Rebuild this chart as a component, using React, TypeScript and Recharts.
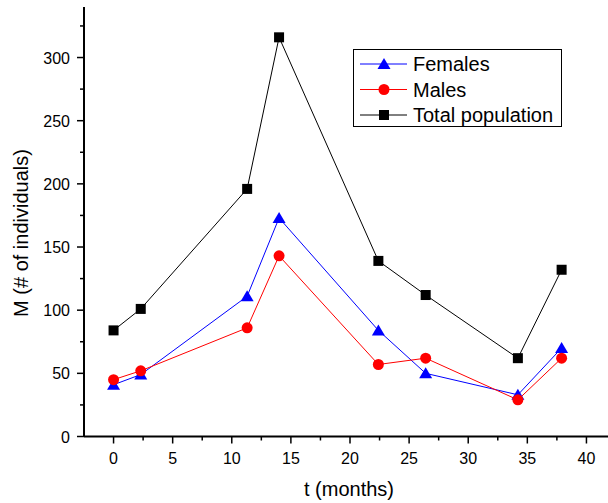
import { LineChart, Line, XAxis, YAxis } from "recharts";

const months = [0, 2.3, 11.3, 14, 22.4, 26.4, 34.2, 37.9];
const females = [41, 49, 111, 173, 84, 50, 33, 70];
const males = [45, 52, 86, 143, 57, 62, 29, 62];
const total = [84, 101, 196, 316, 139, 112, 62, 132];

const xTicks = [0, 2.5, 5, 7.5, 10, 12.5, 15, 17.5, 20, 22.5, 25, 27.5, 30, 32.5, 35, 37.5, 40];
const yTicks = [0, 25, 50, 75, 100, 125, 150, 175, 200, 225, 250, 275, 300, 325];

const data = months.map((t, i) => ({
  t,
  females: females[i],
  males: males[i],
  total: total[i],
}));

const FONT = "'Liberation Sans', Arial, sans-serif";

const seriesInfo = [
  { key: "females", name: "Females", color: "#0000ff", shape: "triangle" },
  { key: "males", name: "Males", color: "#ff0000", shape: "circle" },
  { key: "total", name: "Total population", color: "#000000", shape: "square" },
];

function Marker({ cx, cy, shape, color }: any) {
  if (cx == null || cy == null) return null;
  if (shape === "triangle") {
    return <polygon points={`${cx},${cy - 6} ${cx - 6.5},${cy + 5} ${cx + 6.5},${cy + 5}`} fill={color} />;
  }
  if (shape === "circle") {
    return <circle cx={cx} cy={cy} r={5.5} fill={color} />;
  }
  return <rect x={cx - 5} y={cy - 5} width={10} height={10} fill={color} />;
}

const isMajor = (v: number, step: number) => Math.abs(v / step - Math.round(v / step)) < 1e-6;

function BottomTick({ x, y, payload }: any) {
  const major = isMajor(payload.value, 5);
  return (
    <g>
      <line x1={x} x2={x} y1={y} y2={y + (major ? 7 : 4)} stroke="#000" strokeWidth={1.5} />
      {major && (
        <text x={x} y={y + 27} textAnchor="middle" fontSize={16} fontFamily={FONT} fill="#000">
          {payload.value}
        </text>
      )}
    </g>
  );
}

function TopTick({ x, y, payload }: any) {
  const major = isMajor(payload.value, 5);
  return <line x1={x} x2={x} y1={y} y2={y + (major ? 8 : 5)} stroke="#000" strokeWidth={1.5} />;
}

function LeftTick({ x, y, payload }: any) {
  const major = isMajor(payload.value, 50);
  return (
    <g>
      <line x1={x - (major ? 7 : 4)} x2={x} y1={y} y2={y} stroke="#000" strokeWidth={1.5} />
      {major && (
        <text x={x - 14} y={y + 6} textAnchor="end" fontSize={16} fontFamily={FONT} fill="#000">
          {payload.value}
        </text>
      )}
    </g>
  );
}

function RightTick({ x, y, payload }: any) {
  const major = isMajor(payload.value, 50);
  return <line x1={x - (major ? 8 : 5)} x2={x} y1={y} y2={y} stroke="#000" strokeWidth={1.5} />;
}

function LegendBox() {
  return (
    <svg width={209} height={78} style={{ display: "block" }}>
      <rect x={0.5} y={0.5} width={208} height={77} fill="#fff" stroke="#000" strokeWidth={1} />
      {seriesInfo.map((s, i) => {
        const cy = 15 + i * 25.5;
        return (
          <g key={s.name}>
            <line x1={7} x2={54} y1={cy} y2={cy} stroke={s.color} strokeWidth={1} />
            <Marker cx={31} cy={cy} shape={s.shape} color={s.color} />
            <text x={60} y={cy + 7} fontSize={20} fontFamily={FONT} fill="#000">
              {s.name}
            </text>
          </g>
        );
      })}
    </svg>
  );
}

export default function App() {
  return (
    <div style={{ position: "absolute", left: 0, top: 0, width: 608, height: 503, overflow: "hidden", background: "#fff" }}>
      <LineChart width={620} height={503} data={data} margin={{ top: 7, right: 0, bottom: 0, left: 0 }}>
        <XAxis
          xAxisId="bottom"
          dataKey="t"
          type="number"
          domain={[-2.5, 42.5]}
          ticks={xTicks}
          interval={0}
          height={66.5}
          tickSize={0}
          tickMargin={0}
          tickLine={false}
          tick={<BottomTick />}
          axisLine={{ stroke: "#000", strokeWidth: 2 }}
          label={() => (
            <text x={349} y={496} textAnchor="middle" fontSize={20} fontFamily={FONT} fill="#000">
              t (months)
            </text>
          )}
        />
        <XAxis
          xAxisId="top"
          orientation="top"
          dataKey="t"
          type="number"
          domain={[-2.5, 42.5]}
          ticks={xTicks}
          interval={0}
          height={0}
          tickSize={0}
          tickMargin={0}
          tickLine={false}
          tick={<TopTick />}
          axisLine={{ stroke: "#000", strokeWidth: 2 }}
        />
        <YAxis
          yAxisId="left"
          type="number"
          domain={[0, 340]}
          ticks={yTicks}
          interval={0}
          width={84}
          tickSize={0}
          tickMargin={0}
          tickLine={false}
          tick={<LeftTick />}
          axisLine={{ stroke: "#000", strokeWidth: 2 }}
          label={() => (
            <text
              x={28}
              y={233}
              transform="rotate(-90 28 233)"
              textAnchor="middle"
              fontSize={20}
              fontFamily={FONT}
              fill="#000"
            >
              M (# of individuals)
            </text>
          )}
        />
        <YAxis
          yAxisId="right"
          orientation="right"
          type="number"
          domain={[0, 340]}
          ticks={yTicks}
          interval={0}
          width={4}
          tickSize={0}
          tickMargin={0}
          tickLine={false}
          tick={<RightTick />}
          axisLine={{ stroke: "#000", strokeWidth: 2 }}
        />
        {seriesInfo.map((s) => (
          <Line
            key={s.key}
            xAxisId="bottom"
            yAxisId="left"
            type="linear"
            dataKey={s.key}
            name={s.name}
            stroke={s.color}
            strokeWidth={1}
            isAnimationActive={false}
            dot={(p: any) => <Marker key={`${s.key}-${p.index}`} cx={p.cx} cy={p.cy} shape={s.shape} color={s.color} />}
            activeDot={false}
          />
        ))}
      </LineChart>
      <div style={{ position: "absolute", left: 353, top: 49 }}>
        <LegendBox />
      </div>
    </div>
  );
}
